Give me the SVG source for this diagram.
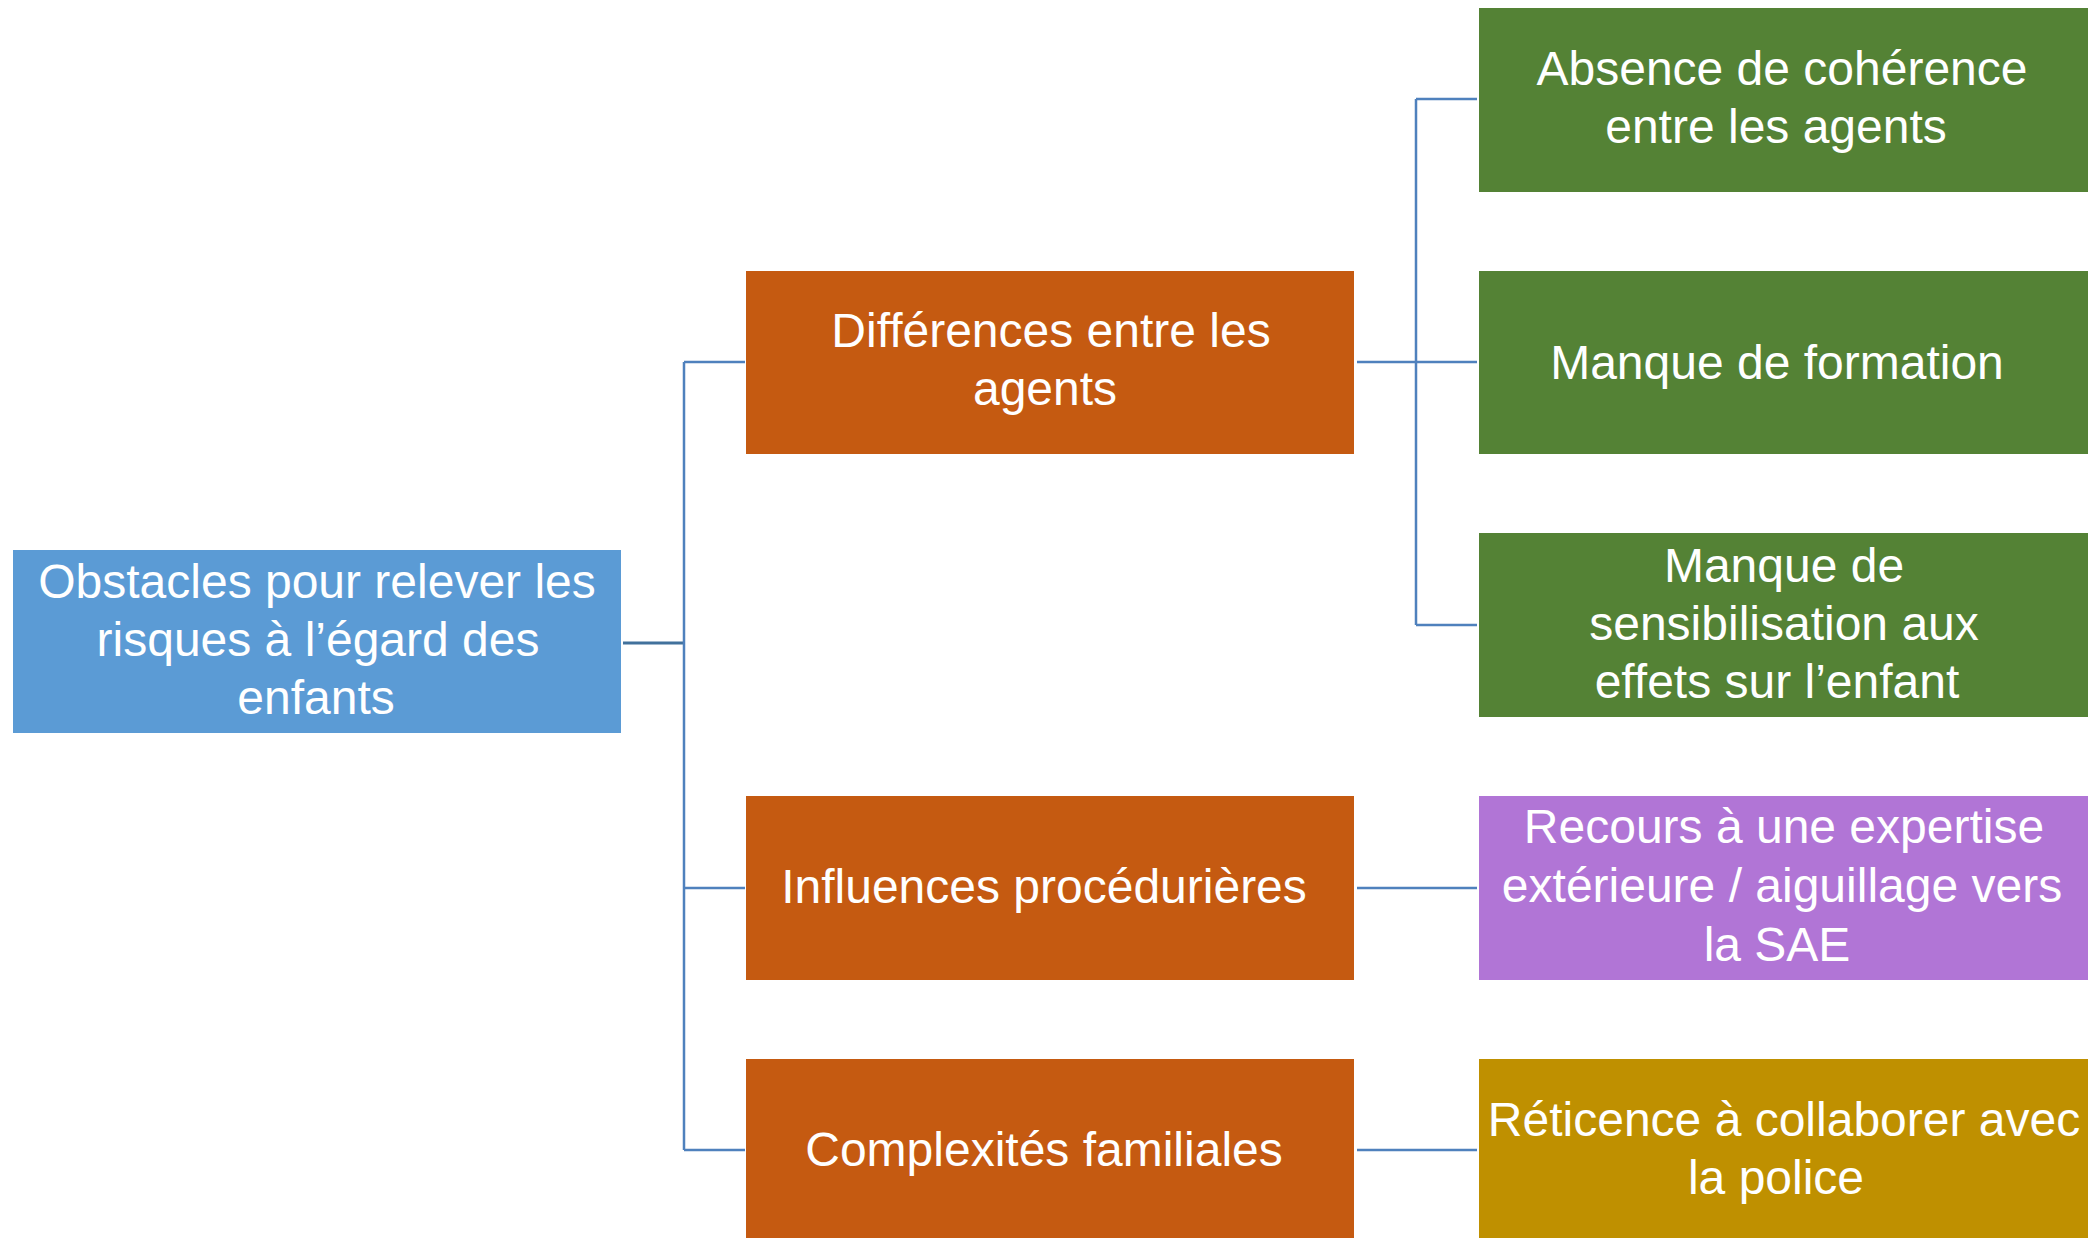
<svg xmlns="http://www.w3.org/2000/svg" width="2088" height="1238" viewBox="0 0 2088 1238">
<style>
.t{font-family:"Liberation Sans",Arial,sans-serif;font-size:48px;fill:#fff;text-anchor:middle}
.c{stroke:#4F81BD;stroke-width:2.5;fill:none}
.root{fill:#5B9BD5}
.mid{fill:#C55A11}
.grn{fill:#548235}
.pur{fill:#B175D6}
.gld{fill:#BF9000}
</style>
<rect width="2088" height="1238" fill="#fff"/>
<g id="connectors">
<path d="M623 643H684" stroke="#41719C" stroke-width="3" fill="none"/>
<path class="c" d="M684 362V1150M684 362H745M684 888H745M684 1150H745"/>
<path class="c" d="M1357 362H1477M1416 99V625M1416 99H1477M1416 625H1477"/>
<path class="c" d="M1357 888H1477M1357 1150H1477"/>
</g>
<g id="root">
<rect class="root" x="13" y="550" width="608" height="183"/>
<text class="t" x="317" y="598">Obstacles pour relever les</text>
<text class="t" x="318" y="656">risques à l’égard des</text>
<text class="t" x="316" y="714">enfants</text>
</g>
<g id="mid1">
<rect class="mid" x="746" y="271" width="608" height="183"/>
<text class="t" x="1051" y="347">Différences entre les</text>
<text class="t" x="1045" y="405">agents</text>
</g>
<g id="mid2">
<rect class="mid" x="746" y="796" width="608" height="184"/>
<text class="t" x="1044" y="903">Influences procédurières</text>
</g>
<g id="mid3">
<rect class="mid" x="746" y="1059" width="608" height="179"/>
<text class="t" x="1044" y="1166">Complexités familiales</text>
</g>
<g id="g1">
<rect class="grn" x="1479" y="8" width="609" height="184"/>
<text class="t" x="1782" y="85">Absence de cohérence</text>
<text class="t" x="1776" y="143">entre les agents</text>
</g>
<g id="g2">
<rect class="grn" x="1479" y="271" width="609" height="183"/>
<text class="t" x="1777" y="379">Manque de formation</text>
</g>
<g id="g3">
<rect class="grn" x="1479" y="533" width="609" height="184"/>
<text class="t" x="1784" y="582">Manque de</text>
<text class="t" x="1784" y="640">sensibilisation aux</text>
<text class="t" x="1777" y="698">effets sur l’enfant</text>
</g>
<g id="p1">
<rect class="pur" x="1479" y="796" width="609" height="184"/>
<text class="t" x="1784" y="843">Recours à une expertise</text>
<text class="t" x="1782" y="902">extérieure / aiguillage vers</text>
<text class="t" x="1777" y="961">la SAE</text>
</g>
<g id="y1">
<rect class="gld" x="1479" y="1059" width="609" height="179"/>
<text class="t" x="1784" y="1136">Réticence à collaborer avec</text>
<text class="t" x="1776" y="1194">la police</text>
</g>
</svg>
